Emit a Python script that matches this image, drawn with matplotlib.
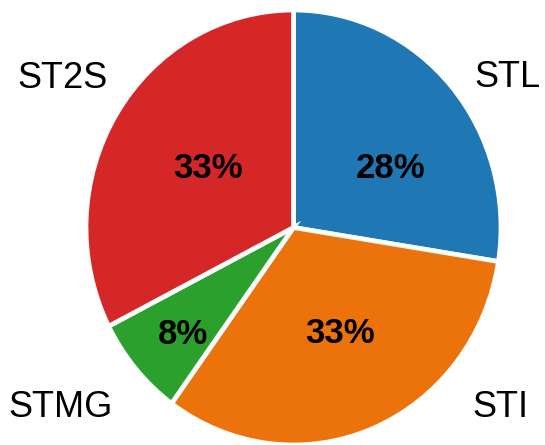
import matplotlib
matplotlib.use("Agg")
import matplotlib.pyplot as plt

# series (clockwise from 12 o'clock)
labels = ["STL", "STI", "STMG", "ST2S"]
counts = [11, 13, 3, 13]
colors = ["#1f77b4", "#ec730b", "#2ca02c", "#d62728"]

# label positions in pixels (center x, baseline y)
name_pos = [(507.5, 87), (500, 417), (61, 417), (63, 88)]
pct_pos = [(391, 178), (340, 343), (183, 344), (208, 178)]

W, H = 545, 445
plt.rcParams["font.family"] = ["Liberation Sans", "DejaVu Sans"]

fig = plt.figure(figsize=(W / 100, H / 100), dpi=100)
cx, cy = 293.5, 227.5
rx, ry = 207.5, 217.5
ax = fig.add_axes([(cx - rx) / W, (H - cy - ry) / H, 2 * rx / W, 2 * ry / H])

ax.pie(counts, colors=colors, startangle=90, counterclock=False,
       wedgeprops=dict(edgecolor="white", linewidth=3.4))
ax.set_aspect("auto")
ax.set_xlim(-1, 1)
ax.set_ylim(-1, 1)
ax.axis("off")

total = sum(counts)
for i, name in enumerate(labels):
    x, y = name_pos[i]
    fig.text(x / W, 1 - y / H, name, ha="center", va="baseline", fontsize=26)
    pct = int(counts[i] / total * 100 + 0.5)
    x, y = pct_pos[i]
    fig.text(x / W, 1 - y / H, f"{pct}%", ha="center", va="baseline",
             fontsize=25, fontweight="bold")

fig.savefig("out.png", dpi=100)
